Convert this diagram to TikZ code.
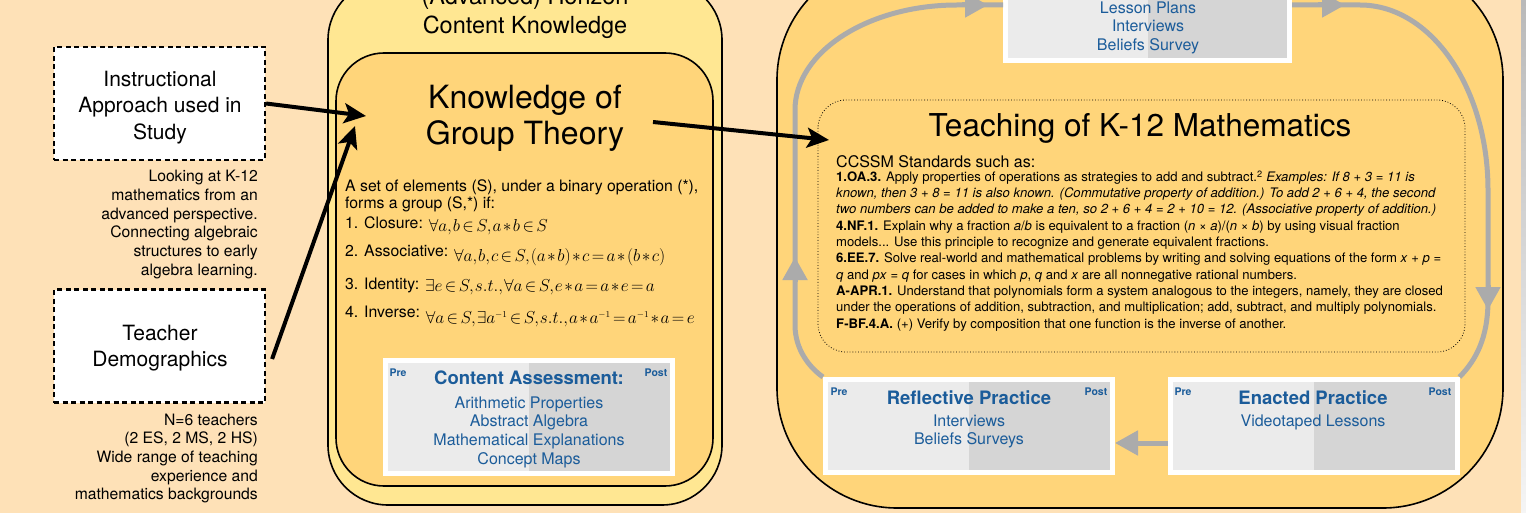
\documentclass[tikz,border=0pt]{standalone}
\usepackage{amsmath,amssymb}
\usepackage{fontspec}
\setmainfont{TeX Gyre Heros}
\usepackage{tikz}
\usetikzlibrary{positioning,arrows.meta}
\definecolor{peach}{HTML}{FEE1B7}
\definecolor{horizon}{HTML}{FFE792}
\definecolor{melon}{HTML}{FFD57A}
\definecolor{inkblue}{HTML}{1B5C9A}
\definecolor{loopgray}{HTML}{ABABAB}
\definecolor{paleleft}{HTML}{EBEBEB}
\definecolor{paleright}{HTML}{D5D5D5}
\newcommand{\fsz}[2]{\fontsize{#1}{#2}\selectfont}
\newcommand{\tightmath}{\thinmuskip=1mu\medmuskip=1.5mu\thickmuskip=2.5mu}
\newcommand{\axmath}[2]{\raisebox{#1}{\fsz{18}{20}$\tightmath #2$}}
\tikzstyle{dashbox} = [draw, fill=white, line width=2.2pt, dash pattern=on 5pt off 3.5pt, minimum width=211pt, minimum height=113pt, inner sep=0pt]
\tikzstyle{boxlabel} = [anchor=north, inner sep=0pt, align=center, font=\fsz{21}{26.5}]
\tikzstyle{aside} = [anchor=north east, inner sep=0pt, align=right, font=\fsz{15.7}{18.7}]
\tikzstyle{axiom} = [anchor=base west, inner sep=0pt, font=\fsz{15.8}{17.6}]
\tikzstyle{assess} = [draw=white, line width=5pt, minimum width=287pt, inner sep=0pt, path picture={
    \fill[paleleft] (path picture bounding box.south west) rectangle (path picture bounding box.north);
    \fill[paleright] (path picture bounding box.south) rectangle (path picture bounding box.north east);}]
\tikzstyle{boxtag} = [text=inkblue, font=\bfseries\fsz{10.5}{12}, inner sep=0pt]
\tikzstyle{boxhead} = [text=inkblue, font=\bfseries\fsz{18.5}{20}, inner sep=0pt]
\tikzstyle{boxitem} = [anchor=north, text=inkblue, font=\fsz{16}{18.7}, inner sep=0pt, align=center]
\tikzstyle{bigarrow} = [line width=4pt, -{Stealth[length=22pt,width=20pt,inset=5pt]}]
\tikzstyle{cycleline} = [loopgray, line width=5pt]
\tikzstyle{cyclehead} = [loopgray, line width=5pt, -{Triangle[length=23pt,width=24pt]}]

\begin{document}
\begin{tikzpicture}[x=1pt,y=-1pt]
    \useasboundingbox (0,0) rectangle (1526,513);
    \clip (0,0) rectangle (1526,513);
    \fill[peach] (0,0) rectangle (1526,513);
    \shade[top color=gray!55, bottom color=gray!8] (1521,0) rectangle (1526,513);

    % horizon content knowledge
    \draw[fill=horizon, line width=1.6pt, rounded corners=60pt] (328,-20) rectangle (722,505);
    \node[anchor=north, inner sep=0pt, align=center, font=\fsz{23.5}{29}] (hck) at (525,-13) {(Advanced) Horizon\\Content Knowledge};
    \draw[fill=melon, line width=1.6pt, rounded corners=48pt] (336,53) rectangle (713,486);
    \node[anchor=north, inner sep=0pt, align=center, font=\fsz{32}{36}] (kgt) at (525,85) {Knowledge of\\Group Theory};
    \node[anchor=north west, inner sep=0pt, align=left, font=\fsz{15.8}{17.6}] (gdef) at (345,179.2) {A set of elements (S), under a binary operation (*),\\forms a group (S,*) if:};
    \node[axiom] (ax1) at (345,228.3) {1. Closure: \axmath{-3.4pt}{\forall a,b\in S,a*b\in S}};
    \node[axiom] (ax2) at (345,256) {2. Associative: \axmath{-5.7pt}{\forall a,b,c\in S,(a*b)*c=a*(b*c)}};
    \node[axiom] (ax3) at (345,289.3) {3. Identity: \axmath{-2.4pt}{\exists e\in S,s.t.,\forall a\in S,e*a=a*e=a}};
    \node[axiom] (ax4) at (345,317.3) {4. Inverse: \axmath{-6pt}{\forall a\in S,\exists a^{\scriptscriptstyle -1}\in S,s.t.,a*a^{\scriptscriptstyle -1}=a^{\scriptscriptstyle -1}*a=e}};

    \node[assess, minimum height=113pt] (ca) at (529,417) {};
    \node[boxtag] (capre) at (398,373) {Pre};
    \node[boxtag] (capost) at (656,373) {Post};
    \node[boxhead] (cahead) at (529,378) {Content Assessment:};
    \node[boxitem] (caitems) at (529,396.2) {Arithmetic Properties\\Abstract Algebra\\Mathematical Explanations\\Concept Maps};

    % left side
    \node[dashbox] (instr) at (159.5,103.5) {};
    \node[boxlabel] (instrlbl) at (160,70.7) {Instructional\\Approach used in\\Study};
    \node[aside] (instrnote) at (258,170.2) {Looking at K-12\\mathematics from an\\advanced perspective.\\Connecting algebraic\\structures to early\\algebra learning.};
    \node[dashbox] (demo) at (159.5,346) {};
    \node[boxlabel] (demolbl) at (160,324.7) {Teacher\\Demographics};
    \node[aside] (demonote) at (258,413.5) {N=6 teachers\\(2 ES, 2 MS, 2 HS)\\Wide range of teaching\\experience and\\mathematics backgrounds};

    % teaching
    \draw[fill=melon, line width=1.6pt, rounded corners=120pt] (777,-40) rectangle (1503,508);
    \draw[dotted, line width=0.8pt, rounded corners=28pt] (818,100) rectangle (1465,352);
    \node[anchor=base, inner sep=0pt, font=\fsz{31.5}{36}] (tkm) at (1140,137) {Teaching of K-12 Mathematics};
    \node[anchor=base west, inner sep=0pt, font=\fsz{16}{18}] (ccssm) at (836,167.8) {CCSSM Standards such as:};
    \node[anchor=north west, inner sep=0pt, align=left, font=\fsz{13.1}{16.3}] (stds) at (836,170.3) {%
        \textbf{1.OA.3.} Apply properties of operations as strategies to add and subtract.\textsuperscript{2} \textit{Examples: If 8 + 3 = 11 is}\\
        \textit{known, then 3 + 8 = 11 is also known. (Commutative property of addition.) To add 2 + 6 + 4, the second}\\
        \textit{two numbers can be added to make a ten, so 2 + 6 + 4 = 2 + 10 = 12. (Associative property of addition.)}\\
        \textbf{4.NF.1.} Explain why a fraction \textit{a}/\textit{b} is equivalent to a fraction (\textit{n} × \textit{a})/(\textit{n} × \textit{b}) by using visual fraction\\
        models... Use this principle to recognize and generate equivalent fractions.\\
        \textbf{6.EE.7.} Solve real-world and mathematical problems by writing and solving equations of the form \textit{x} + \textit{p} =\\
        \textit{q} and \textit{px} = \textit{q} for cases in which \textit{p}, \textit{q} and \textit{x} are all nonnegative rational numbers.\\
        \textbf{A-APR.1.} Understand that polynomials form a system analogous to the integers, namely, they are closed\\
        under the operations of addition, subtraction, and multiplication; add, subtract, and multiply polynomials.\\
        \textbf{F-BF.4.A.} (+) Verify by composition that one function is the inverse of another.};

    \node[assess, minimum width=284pt, minimum height=111pt] (plans) at (1147.5,5) {};
    \node[boxitem] (planitems) at (1148,1.2) {Lesson Plans\\Interviews\\Beliefs Survey};

    \node[assess, minimum height=93pt] (reflect) at (969,426) {};
    \node[boxtag] (refpre) at (839,392) {Pre};
    \node[boxtag] (refpost) at (1096,392) {Post};
    \node[boxhead] (refhead) at (969,398) {Reflective Practice};
    \node[boxitem] (refitems) at (969,414.2) {Interviews\\Beliefs Surveys};

    \node[assess, minimum height=93pt] (enact) at (1313.5,426) {};
    \node[boxtag] (enpre) at (1183,392) {Pre};
    \node[boxtag] (enpost) at (1440,392) {Post};
    \node[boxhead] (enhead) at (1313,398) {Enacted Practice};
    \node[boxitem] (enitems) at (1313,414.2) {Videotaped Lessons};

    % cycle
    \draw[cycleline] (reflect.north west) .. controls (810,368) and (795,350) .. (795,325) -- (795,110)
        .. controls (795,52) and (868,5) .. (957,5) -- (plans.west);
    \draw[cycleline] (plans.east) -- (1360,5) .. controls (1431,5) and (1488,88) .. (1488,190) -- (1488,300)
        .. controls (1488,338) and (1476,360) .. (enact.north east);
    \draw[cyclehead] ([yshift=-17pt]enact.west) -- ([yshift=-17pt]reflect.east);
    \draw[cyclehead] (795,282) -- (795,257);
    \draw[cyclehead] (962,5) -- (988,5);
    \draw[cyclehead] (1318,5) -- (1345,5);
    \draw[cyclehead] (1488,285) -- (1488,310);

    % arrows
    \coordinate (gin1) at (366,116);
    \coordinate (gin2) at (355,126);
    \coordinate (gout) at (653,122);
    \coordinate (tin) at (829,140);
    \draw[bigarrow] (instr.east) -- (gin1);
    \draw[bigarrow] ([xshift=6pt,yshift=-13pt]demo.east) -- (gin2);
    \draw[bigarrow] (gout) -- (tin);
\end{tikzpicture}
\end{document}
